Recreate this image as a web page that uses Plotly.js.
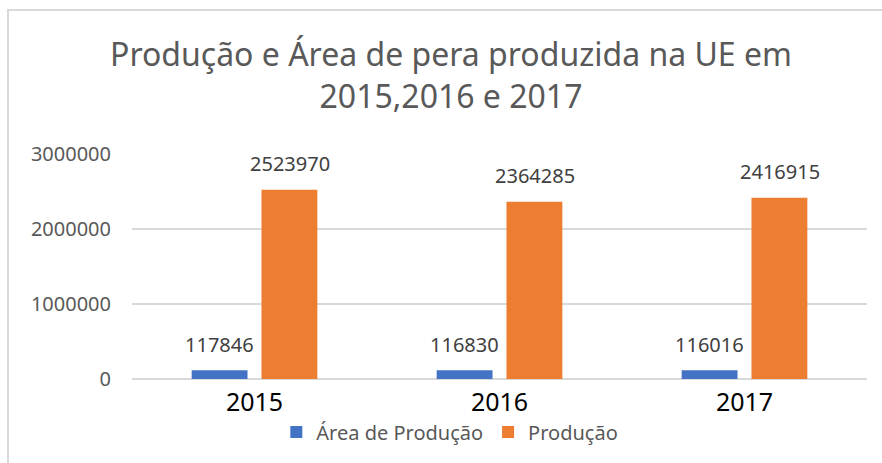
<!DOCTYPE html>
<html>
<head>
<meta charset="utf-8">
<script src="https://cdn.plot.ly/plotly-3.0.1.min.js"></script>
<style>
  html, body { margin: 0; padding: 0; background: #fff; }
  #wrap { position: relative; width: 882px; height: 463px; }
  #chart { position: absolute; left: 0; top: 0; width: 882px; height: 463px; }
  #frame { position: absolute; left: 7px; top: 9px; width: 875px; height: 454px;
           border-left: 2px solid #d9d9d9; border-top: 2px solid #d9d9d9;
           box-sizing: border-box; pointer-events: none; }
</style>
</head>
<body>
<div id="wrap">
  <div id="chart"></div>
  <div id="frame"></div>
</div>
<script>
// ---- data ----
const categories = ['2015', '2016', '2017'];
const areaProducao = [117846, 116830, 116016];
const producao = [2523970, 2364285, 2416915];
const seriesNames = ['Área de Produção', 'Produção'];
const titleText = 'Produção e Área de pera produzida na UE em<br>2015,2016 e 2017';
const yTicks = [0, 1000000, 2000000, 3000000];

// ---- styles ----
const FONT = 'Noto Sans, Open Sans, sans-serif';
const BLUE = '#4472C4';
const ORANGE = '#ED7D31';

const traces = [
  { type: 'bar', name: seriesNames[0], x: categories, y: areaProducao,
    marker: { color: BLUE, line: { width: 0 } }, hoverinfo: 'x+y' },
  { type: 'bar', name: seriesNames[1], x: categories, y: producao,
    marker: { color: ORANGE, line: { width: 0 } }, hoverinfo: 'x+y' }
];

// data labels: x given as category index (numeric-looking category names would be read as indices)
const annotations = [];
[areaProducao, producao].forEach((vals, s) => {
  vals.forEach((v, i) => {
    annotations.push({
      x: i, y: v, xref: 'x', yref: 'y',
      text: String(v), showarrow: false,
      xanchor: 'center', yanchor: 'middle',
      xshift: s === 0 ? -35 : 35, yshift: 26,
      font: { family: FONT, size: 20, color: '#404040' }
    });
  });
});

const layout = {
  width: 882, height: 463,
  margin: { l: 132, r: 15, t: 154, b: 84 },
  paper_bgcolor: '#ffffff', plot_bgcolor: '#ffffff',
  font: { family: FONT, color: '#595959' },
  title: {
    text: titleText,
    font: { family: FONT, size: 32, color: '#595959' },
    x: 451 / 882, xref: 'container', xanchor: 'center',
    y: 1 - 66 / 463, yref: 'container', yanchor: 'middle'
  },
  barmode: 'group', bargap: 0.43, bargroupgap: 0.2,
  xaxis: {
    type: 'category', ticks: '', showgrid: false, zeroline: false, showline: false,
    range: [-0.5, 2.5],
    tickfont: { family: FONT, size: 25, color: '#000000' },
    ticklabelstandoff: 6
  },
  yaxis: {
    range: [0, 3000000], tickvals: yTicks, tickformat: 'd',
    ticks: '', showline: false,
    showgrid: true, gridcolor: '#d9d9d9', gridwidth: 1.5,
    zeroline: true, zerolinecolor: '#d9d9d9', zerolinewidth: 1.5,
    tickfont: { family: FONT, size: 20, color: '#595959' },
    ticklabelstandoff: 20
  },
  showlegend: true,
  legend: {
    orientation: 'h', xref: 'container', yref: 'container',
    x: 0.51, xanchor: 'center', y: (463 - 432) / 463, yanchor: 'middle',
    font: { family: FONT, size: 20, color: '#595959' },
    itemwidth: 30, traceorder: 'normal'
  },
  annotations: annotations
};

Plotly.newPlot('chart', traces, layout, { displayModeBar: false, staticPlot: true });
</script>
</body>
</html>
